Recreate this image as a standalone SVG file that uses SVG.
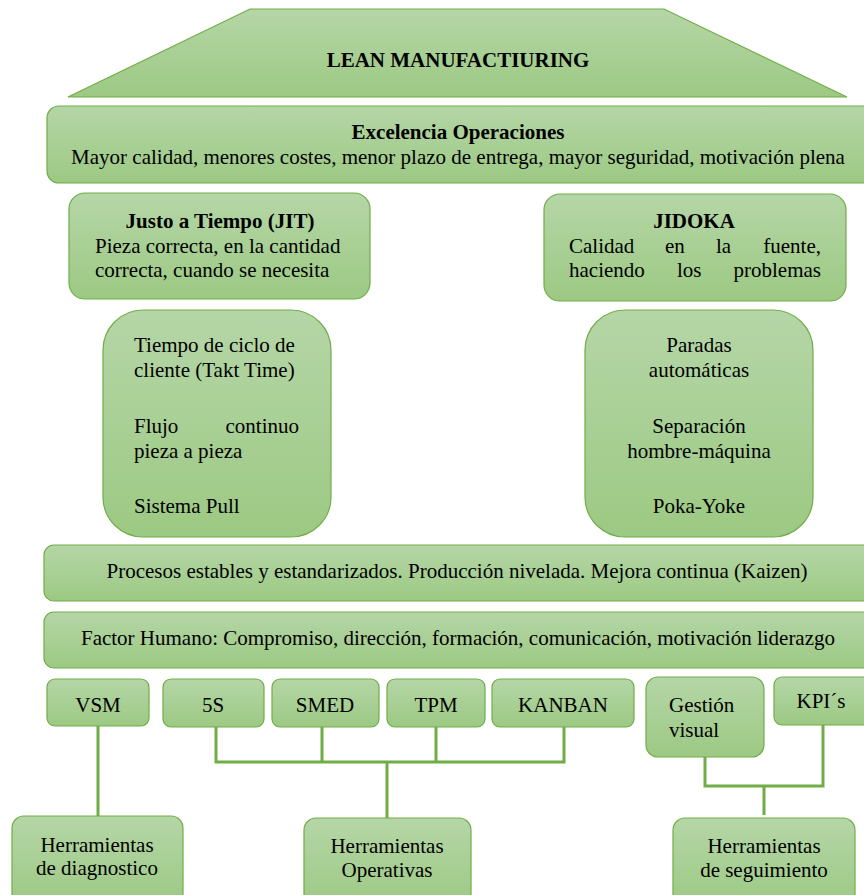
<svg xmlns="http://www.w3.org/2000/svg" width="864" height="895" viewBox="0 0 864 895">
<defs>
<linearGradient id="g" x1="0" y1="0" x2="0" y2="1">
<stop offset="0" stop-color="#b5d6a7"/>
<stop offset="1" stop-color="#9cc983"/>
</linearGradient>
<style>
.n{fill:url(#g);stroke:#70ad47;stroke-width:1.2}
text{font-family:"Liberation Serif","Times New Roman",serif;font-size:21px;fill:#000}
.b{font-weight:bold}
.c{text-anchor:middle}
.e{text-anchor:end}
.k{stroke:#70ad47;stroke-width:3;fill:none}
</style>
</defs>
<rect width="864" height="895" fill="#fff"/>
<g id="lean">
<polygon class="n" points="250,9 664,9 847,97 68,97"/>
<text class="b c" x="458" y="67">LEAN MANUFACTIURING</text>
</g>
<g id="excelencia">
<rect class="n" x="47" y="106" width="830" height="77" rx="12"/>
<text class="b c" x="458" y="139">Excelencia Operaciones</text>
<text class="c" x="458" y="164">Mayor calidad, menores costes, menor plazo de entrega, mayor seguridad, motivación plena</text>
</g>
<g id="jit">
<rect class="n" x="69" y="193" width="301" height="106" rx="16"/>
<text class="b c" x="220" y="228">Justo a Tiempo (JIT)</text>
<text x="95" y="253">Pieza correcta, en la cantidad</text>
<text x="95" y="277">correcta, cuando se necesita</text>
</g>
<g id="jidoka">
<rect class="n" x="544" y="194" width="302" height="107" rx="16"/>
<text class="b c" x="694" y="228">JIDOKA</text>
<text x="569" y="253">Calidad</text><text x="665" y="253">en</text><text x="716" y="253">la</text><text class="e" x="821" y="253">fuente,</text>
<text x="569" y="277">haciendo</text><text x="677" y="277">los</text><text class="e" x="821" y="277">problemas</text>
</g>
<g id="jit-list">
<rect class="n" x="103" y="310" width="228" height="227" rx="40"/>
<text x="134" y="352">Tiempo de ciclo de</text>
<text x="134" y="377">cliente (Takt Time)</text>
<text x="134" y="433">Flujo</text><text class="e" x="299" y="433">continuo</text>
<text x="134" y="458">pieza a pieza</text>
<text x="134" y="513">Sistema Pull</text>
</g>
<g id="jidoka-list">
<rect class="n" x="585" y="310" width="228" height="227" rx="40"/>
<text class="c" x="699" y="352">Paradas</text>
<text class="c" x="699" y="377">automáticas</text>
<text class="c" x="699" y="433">Separación</text>
<text class="c" x="699" y="458">hombre-máquina</text>
<text class="c" x="699" y="513">Poka-Yoke</text>
</g>
<g id="procesos">
<rect class="n" x="44" y="545" width="834" height="56" rx="10"/>
<text class="c" x="457" y="578">Procesos estables y estandarizados. Producción nivelada. Mejora continua (Kaizen)</text>
</g>
<g id="factor">
<rect class="n" x="44" y="612" width="834" height="56" rx="10"/>
<text class="c" x="458" y="645">Factor Humano: Compromiso, dirección, formación, comunicación, motivación liderazgo</text>
</g>
<g id="connectors">
<line class="k" x1="98" y1="726" x2="98" y2="816"/>
<polyline class="k" points="216,727 216,762 564,762 564,727"/>
<line class="k" x1="322" y1="727" x2="322" y2="762"/>
<line class="k" x1="436" y1="727" x2="436" y2="762"/>
<line class="k" x1="387" y1="762" x2="387" y2="818"/>
<polyline class="k" points="705,757 705,786 823,786 823,725"/>
<line class="k" x1="764" y1="786" x2="764" y2="815"/>
</g>
<g id="vsm">
<rect class="n" x="47" y="679" width="102" height="47" rx="8"/>
<text class="c" x="98" y="712">VSM</text>
</g>
<g id="s5">
<rect class="n" x="163" y="679" width="101" height="48" rx="8"/>
<text class="c" x="213" y="712">5S</text>
</g>
<g id="smed">
<rect class="n" x="272" y="679" width="107" height="48" rx="8"/>
<text class="c" x="325" y="712">SMED</text>
</g>
<g id="tpm">
<rect class="n" x="387" y="679" width="98" height="48" rx="8"/>
<text class="c" x="436" y="712">TPM</text>
</g>
<g id="kanban">
<rect class="n" x="492" y="679" width="142" height="48" rx="8"/>
<text class="c" x="563" y="712">KANBAN</text>
</g>
<g id="gestion">
<rect class="n" x="646" y="677" width="118" height="80" rx="12"/>
<text x="669" y="712">Gestión</text>
<text x="669" y="737">visual</text>
</g>
<g id="kpis">
<rect class="n" x="774" y="677" width="100" height="48" rx="8"/>
<text class="c" x="821" y="708">KPI´s</text>
</g>
<g id="diagnostico">
<rect class="n" x="12" y="816" width="171" height="90" rx="12"/>
<text class="c" x="97" y="852">Herramientas</text>
<text class="c" x="97" y="875">de diagnostico</text>
</g>
<g id="operativas">
<rect class="n" x="304" y="818" width="167" height="90" rx="12"/>
<text class="c" x="387" y="853">Herramientas</text>
<text class="c" x="387" y="877">Operativas</text>
</g>
<g id="seguimiento">
<rect class="n" x="673" y="818" width="182" height="90" rx="12"/>
<text class="c" x="764" y="853">Herramientas</text>
<text class="c" x="764" y="877">de seguimiento</text>
</g>
</svg>
